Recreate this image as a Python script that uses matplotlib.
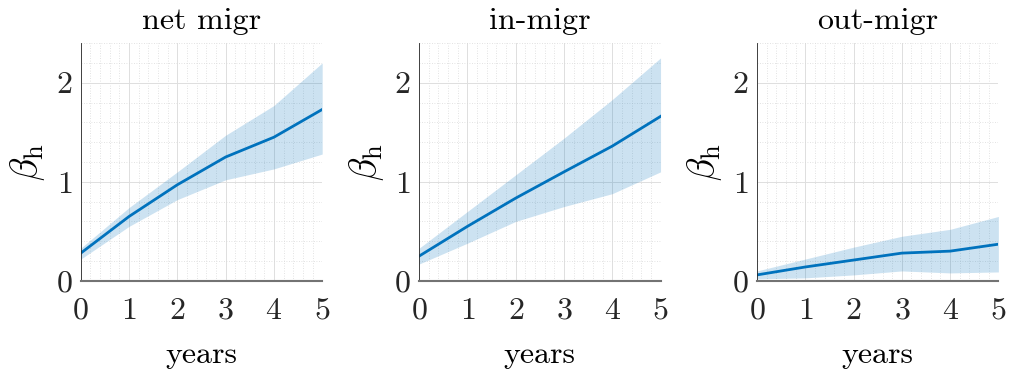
import matplotlib
matplotlib.use("Agg")
import matplotlib.pyplot as plt
from matplotlib.ticker import MultipleLocator

plt.rcParams['font.family'] = 'serif'
plt.rcParams['font.serif'] = ['cmr10', 'DejaVu Serif']
plt.rcParams['mathtext.fontset'] = 'cm'
plt.rcParams['axes.formatter.use_mathtext'] = True

# horizon in years
years = [0, 1, 2, 3, 4, 5]

titles = ['net migr', 'in-migr', 'out-migr']

# point estimates and bands
net_mid = [0.28, 0.65, 0.97, 1.25, 1.45, 1.73]
net_lo = [0.22, 0.55, 0.82, 1.02, 1.13, 1.28]
net_hi = [0.33, 0.74, 1.10, 1.47, 1.77, 2.20]

in_mid = [0.25, 0.55, 0.835, 1.10, 1.36, 1.66]
in_lo = [0.17, 0.38, 0.60, 0.75, 0.88, 1.10]
in_hi = [0.33, 0.70, 1.07, 1.44, 1.83, 2.25]

out_mid = [0.06, 0.14, 0.21, 0.28, 0.30, 0.37]
out_lo = [0.02, 0.03, 0.06, 0.10, 0.08, 0.09]
out_hi = [0.10, 0.22, 0.34, 0.45, 0.52, 0.65]

series = [(net_mid, net_lo, net_hi),
          (in_mid, in_lo, in_hi),
          (out_mid, out_lo, out_hi)]

blue = (0, 0.447, 0.741)
axcol = (0.15, 0.15, 0.15)

fig = plt.figure(figsize=(10.1, 3.78), dpi=100)
lefts = [0.080, 0.415, 0.7495]

for left, title, (mid, lo, hi) in zip(lefts, titles, series):
    ax = fig.add_axes([left, 0.257, 0.239, 0.629])
    ax.fill_between(years, lo, hi, color=blue, alpha=0.2, lw=0)
    ax.plot(years, mid, color=blue, lw=2)

    ax.set_xlim(0, 5)
    ax.set_ylim(0, 2.4)
    ax.xaxis.set_major_locator(MultipleLocator(1))
    ax.yaxis.set_major_locator(MultipleLocator(1))
    ax.xaxis.set_minor_locator(MultipleLocator(0.2))
    ax.yaxis.set_minor_locator(MultipleLocator(0.2))
    ax.grid(which='major', color=(0.87, 0.87, 0.87), lw=0.7)
    ax.grid(which='minor', color=(0.85, 0.85, 0.85), lw=0.6, ls=(0, (1, 2)))
    ax.set_axisbelow(True)

    for s in ['top', 'right']:
        ax.spines[s].set_visible(False)
    ax.spines['left'].set_color(axcol)
    ax.spines['left'].set_linewidth(0.6)
    ax.spines['bottom'].set_color((0.45, 0.45, 0.45))
    ax.spines['bottom'].set_linewidth(1.5)

    ax.tick_params(which='both', direction='in', length=0, colors=axcol,
                   labelsize=23)
    ax.tick_params(axis='x', pad=12)
    ax.tick_params(axis='y', pad=6)
    ax.set_title(title, fontsize=23, color='black', pad=10)
    ax.set_xlabel('years', fontsize=23, labelpad=12)
    ax.set_ylabel(r'$\beta_\mathrm{h}$', fontsize=27, labelpad=6)

fig.savefig('out.png', dpi=100)
